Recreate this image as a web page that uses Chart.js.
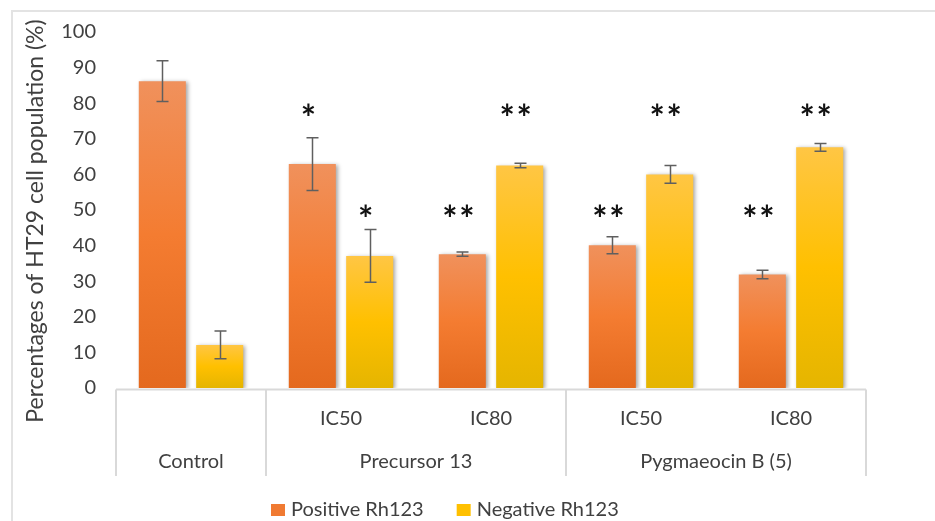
<!DOCTYPE html>
<html>
<head>
<meta charset="utf-8">
<script src="https://cdn.jsdelivr.net/npm/chart.js@4.4.2/dist/chart.umd.min.js"></script>
<style>
  html, body { margin: 0; padding: 0; background: #fff; }
  #wrap { position: relative; width: 935px; height: 521px; }
  #frame { position: absolute; left: 11px; top: 10px; right: -4px; bottom: -4px; border: 2px solid #e3e3e3; }
  canvas { position: absolute; left: 0; top: 0; }
</style>
</head>
<body>
<div id="wrap">
  <div id="frame"></div>
  <canvas id="chart" width="935" height="521"></canvas>
</div>
<script>
const subLabels = ['', 'IC50', 'IC80', 'IC50', 'IC80'];
const groupLabels = ['Control', 'Precursor 13', 'Pygmaeocin B (5)'];
const groupSpans = [1, 2, 2];

const positiveValues = [86.2, 62.9, 37.6, 40.1, 31.9];
const positiveErrors = [5.7, 7.4, 0.6, 2.4, 1.2];
const negativeValues = [12.1, 37.1, 62.5, 60.0, 67.6];
const negativeErrors = [3.9, 7.4, 0.6, 2.5, 1.1];

// significance marks and the value level they sit at
const positiveMarks = ['', '*', '**', '**', '**'];
const positiveMarkLevel = [0, 78, 49.5, 49.5, 49.5];
const negativeMarks = ['', '*', '**', '**', '**'];
const negativeMarkLevel = [0, 49.5, 78, 78, 78];

const yTicks = [0, 10, 20, 30, 40, 50, 60, 70, 80, 90, 100];

const FONT = 'Lato';
const TEXT = '#404040';

function barGradient(stops) {
  return (context) => {
    const chart = context.chart;
    if (!chart.chartArea || context.raw === undefined) {
      return stops[1];
    }
    const y = chart.scales.y;
    const top = y.getPixelForValue(context.raw);
    const bottom = y.getPixelForValue(0);
    if (!isFinite(top) || !isFinite(bottom) || top === bottom) {
      return stops[1];
    }
    const g = chart.ctx.createLinearGradient(0, top, 0, bottom);
    g.addColorStop(0, stops[0]);
    g.addColorStop(0.5, stops[1]);
    g.addColorStop(1, stops[2]);
    return g;
  };
}

const positiveStops = ['#F0915C', '#F47C31', '#E4691E'];
const negativeStops = ['#FFC644', '#FFC000', '#E5B500'];

const shadowPlugin = {
  id: 'barShadow',
  beforeDatasetsDraw(chart) {
    const ctx = chart.ctx;
    ctx.save();
    ctx.shadowColor = 'rgba(0, 0, 0, 0.35)';
    ctx.shadowBlur = 4;
    ctx.shadowOffsetX = 2;
    ctx.shadowOffsetY = 1;
  },
  afterDatasetsDraw(chart) {
    chart.ctx.restore();
  }
};

const extrasPlugin = {
  id: 'extras',
  afterDatasetsDraw(chart) {
    const ctx = chart.ctx;
    const y = chart.scales.y;
    const x = chart.scales.x;
    const area = chart.chartArea;
    const errors = [positiveErrors, negativeErrors];
    const marks = [positiveMarks, negativeMarks];
    const levels = [positiveMarkLevel, negativeMarkLevel];

    // error bars
    ctx.save();
    ctx.strokeStyle = '#5f5f5f';
    ctx.lineWidth = 1.5;
    chart.data.datasets.forEach((ds, d) => {
      const meta = chart.getDatasetMeta(d);
      meta.data.forEach((bar, i) => {
        const v = ds.data[i];
        const e = errors[d][i];
        const y1 = y.getPixelForValue(v + e);
        const y2 = y.getPixelForValue(v - e);
        const cx = Math.round(bar.x) + 0.5;
        ctx.beginPath();
        ctx.moveTo(cx, y1);
        ctx.lineTo(cx, y2);
        ctx.moveTo(cx - 6, y1);
        ctx.lineTo(cx + 6, y1);
        ctx.moveTo(cx - 6, y2);
        ctx.lineTo(cx + 6, y2);
        ctx.stroke();
      });
    });

    // significance asterisks
    ctx.fillStyle = '#111';
    ctx.font = 'bold 36px ' + FONT;
    ctx.textAlign = 'center';
    ctx.textBaseline = 'middle';
    chart.data.datasets.forEach((ds, d) => {
      const meta = chart.getDatasetMeta(d);
      meta.data.forEach((bar, i) => {
        const n = marks[d][i].length;
        if (!n) return;
        const py = y.getPixelForValue(levels[d][i]) + 9;
        for (let k = 0; k < n; k++) {
          const px = bar.x - 4 + (k - (n - 1) / 2) * 17;
          ctx.fillText('*', px, py);
        }
      });
    });
    ctx.restore();

    // two-level category axis
    const n = chart.data.labels.length;
    const cw = (area.right - area.left) / n;
    const axisY = area.bottom + 1.5;
    const boxBottom = area.bottom + 88;
    ctx.save();
    ctx.strokeStyle = '#d9d9d9';
    ctx.lineWidth = 2;
    ctx.beginPath();
    ctx.moveTo(area.left, axisY);
    ctx.lineTo(area.right, axisY);
    let idx = 0;
    const edges = [0];
    groupSpans.forEach(s => { idx += s; edges.push(idx); });
    edges.forEach(e => {
      const ex = x.getPixelForValue(0) - cw / 2 + e * cw;
      ctx.moveTo(ex, axisY);
      ctx.lineTo(ex, boxBottom);
    });
    ctx.stroke();

    ctx.fillStyle = TEXT;
    ctx.font = '20px ' + FONT;
    ctx.textAlign = 'center';
    ctx.textBaseline = 'middle';
    subLabels.forEach((lab, i) => {
      if (lab) ctx.fillText(lab, x.getPixelForValue(i), area.bottom + 31);
    });
    let start = 0;
    groupLabels.forEach((lab, g) => {
      const a = x.getPixelForValue(start);
      const b = x.getPixelForValue(start + groupSpans[g] - 1);
      ctx.fillText(lab, (a + b) / 2, area.bottom + 74);
      start += groupSpans[g];
    });

    // y axis title
    ctx.save();
    ctx.font = '23px ' + FONT;
    ctx.translate(36, 221);
    ctx.rotate(-Math.PI / 2);
    ctx.fillText('Percentages of HT29 cell population (%)', 0, 0);
    ctx.restore();

    // legend
    const items = chart.data.datasets.map(ds => ds.label);
    const boxColors = ['#F07A32', '#FFC000'];
    let lx = 271;
    const ly = 510;
    ctx.textAlign = 'left';
    items.forEach((t, i) => {
      ctx.fillStyle = boxColors[i];
      ctx.fillRect(lx, ly - 6, 14, 12);
      ctx.fillStyle = TEXT;
      ctx.fillText(t, lx + 20, ly);
      lx += 20 + ctx.measureText(t).width + 33;
    });
    ctx.restore();
  }
};

new Chart(document.getElementById('chart'), {
  type: 'bar',
  data: {
    labels: subLabels,
    datasets: [{
      label: 'Positive Rh123',
      data: positiveValues,
      backgroundColor: barGradient(positiveStops)
    }, {
      label: 'Negative Rh123',
      data: negativeValues,
      backgroundColor: barGradient(negativeStops)
    }]
  },
  options: {
    responsive: false,
    animation: false,
    categoryPercentage: 0.765,
    barPercentage: 0.82,
    layout: {
      padding: { left: 0, top: 32, right: 69, bottom: 133 }
    },
    plugins: {
      legend: { display: false },
      tooltip: { enabled: false }
    },
    scales: {
      x: {
        display: false
      },
      y: {
        min: 0,
        max: 100,
        afterFit(scale) {
          scale.width = 116;
        },
        afterBuildTicks(scale) {
          scale.ticks = yTicks.map(v => ({ value: v }));
        },
        grid: { display: false, drawTicks: false },
        border: { display: false },
        ticks: {
          padding: 20,
          color: TEXT,
          font: { family: FONT, size: 20 }
        }
      }
    }
  },
  plugins: [shadowPlugin, extrasPlugin]
});
</script>
</body>
</html>
